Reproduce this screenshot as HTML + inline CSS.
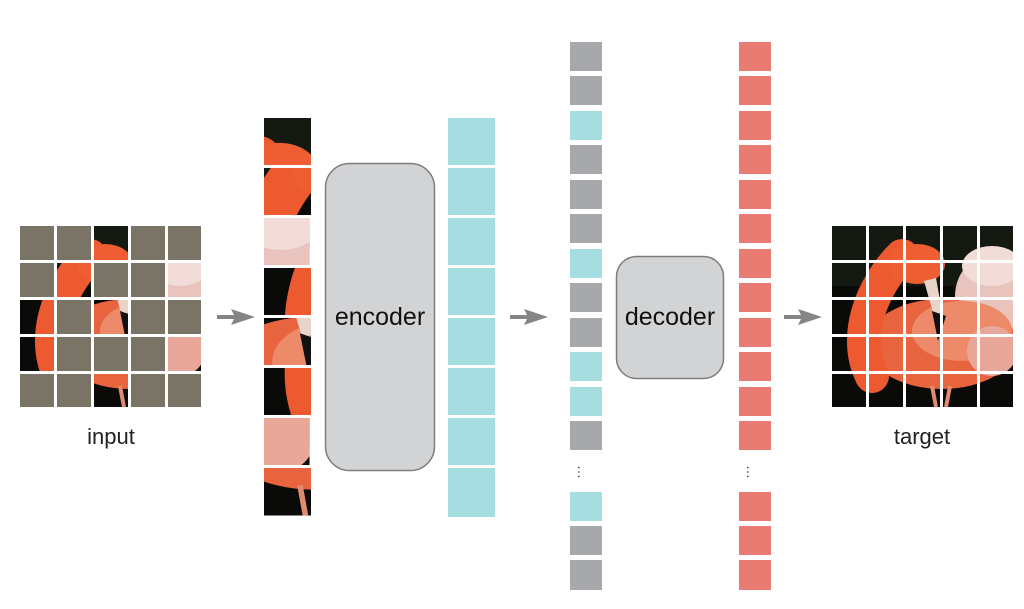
<!DOCTYPE html>
<html><head><meta charset="utf-8"><style>
html,body{margin:0;padding:0;background:#fff;}
svg{display:block;}
text{font-family:"Liberation Sans",Arial,sans-serif;}
</style></head><body>
<svg width="1024" height="609" viewBox="0 0 1024 609" xmlns="http://www.w3.org/2000/svg">
<defs>
<clipPath id="box"><rect x="0" y="0" width="181" height="181"/></clipPath>
<g id="fl">
 <g clip-path="url(#box)">
  <rect x="0" y="0" width="181" height="181" fill="#0a0a08"/>
  <rect x="0" y="0" width="181" height="60" fill="#141a12"/>
  <ellipse cx="168" cy="70" rx="45" ry="45" fill="#e9c3bd"/>
  <ellipse cx="160" cy="40" rx="30" ry="20" fill="#f2dcd8"/>
  <ellipse cx="110" cy="118" rx="75" ry="45" fill="#e8643e"/>
  <ellipse cx="130" cy="105" rx="50" ry="30" fill="#ec8a6a"/>
  <ellipse cx="160" cy="125" rx="25" ry="25" fill="#e9a79a"/>
  <path d="M40 150 C20 110 40 60 70 30" stroke="#ee5a30" stroke-width="34" fill="none" stroke-linecap="round"/>
  <ellipse cx="85" cy="38" rx="28" ry="20" fill="#ef5d32"/>
  <path d="M92 55 L102 90 L110 85 L104 52 Z" fill="#e8d4c8"/>
  <path d="M100 85 L106 115 L114 90 Z" fill="#111"/>
  <path d="M100 160 L104 181 M118 160 L114 181" stroke="#e08a70" stroke-width="4"/>
 </g>
</g>
<g id="arr">
  <rect x="0" y="-2" width="18" height="4" fill="#858585"/>
  <path d="M14 -8 L38 0 L14 8 L18 0 Z" fill="#858585"/>
</g>
</defs>

<!-- input grid -->
<g transform="translate(20,226)">
  <use href="#fl"/>
  <g fill="#7a7466">
    <rect x="0" y="0" width="34" height="34"/><rect x="37" y="0" width="34" height="34"/><rect x="111" y="0" width="34" height="34"/><rect x="148" y="0" width="34" height="34"/>
    <rect x="0" y="37" width="34" height="34"/><rect x="74" y="37" width="34" height="34"/><rect x="111" y="37" width="34" height="34"/>
    <rect x="37" y="74" width="34" height="34"/><rect x="111" y="74" width="34" height="34"/><rect x="148" y="74" width="34" height="34"/>
    <rect x="37" y="111" width="34" height="34"/><rect x="74" y="111" width="34" height="34"/><rect x="111" y="111" width="34" height="34"/>
    <rect x="0" y="148" width="34" height="34"/><rect x="37" y="148" width="34" height="34"/><rect x="111" y="148" width="34" height="34"/><rect x="148" y="148" width="34" height="34"/>
  </g>
  <g fill="#fff">
    <rect x="34" y="-1" width="3" height="183"/><rect x="71" y="-1" width="3" height="183"/><rect x="108" y="-1" width="3" height="183"/><rect x="145" y="-1" width="3" height="183"/>
    <rect x="-1" y="34" width="183" height="3"/><rect x="-1" y="71" width="183" height="3"/><rect x="-1" y="108" width="183" height="3"/><rect x="-1" y="145" width="183" height="3"/>
    <rect x="181" y="0" width="3" height="181"/><rect x="0" y="181" width="183" height="3"/>
  </g>
</g>
<text x="111" y="444" font-size="22" text-anchor="middle" fill="#222">input</text>

<use href="#arr" transform="translate(217,317)"/>

<!-- patch column -->
<svg x="264" y="118" width="47" height="47" viewBox="74 0 34 34"><use href="#fl"/></svg>
<svg x="264" y="168" width="47" height="47" viewBox="37 37 34 34"><use href="#fl"/></svg>
<svg x="264" y="218" width="47" height="47" viewBox="148 37 34 34"><use href="#fl"/></svg>
<svg x="264" y="268" width="47" height="47" viewBox="0 74 34 34"><use href="#fl"/></svg>
<svg x="264" y="318" width="47" height="47" viewBox="74 74 34 34"><use href="#fl"/></svg>
<svg x="264" y="368" width="47" height="47" viewBox="0 111 34 34"><use href="#fl"/></svg>
<svg x="264" y="418" width="47" height="47" viewBox="148 111 34 34"><use href="#fl"/></svg>
<svg x="264" y="468" width="47" height="49" viewBox="74 148 34 34" preserveAspectRatio="none"><use href="#fl"/></svg>

<!-- encoder -->
<rect x="325.5" y="163.5" width="109" height="307" rx="24" fill="#d2d3d5" stroke="#7d7d7d" stroke-width="1.5"/>
<text x="380" y="325" font-size="25" text-anchor="middle" fill="#111">encoder</text>

<!-- cyan column -->
<g fill="#a6dde0">
  <rect x="448" y="118" width="47" height="47"/><rect x="448" y="168" width="47" height="47"/>
  <rect x="448" y="218" width="47" height="47"/><rect x="448" y="268" width="47" height="47"/>
  <rect x="448" y="318" width="47" height="47"/><rect x="448" y="368" width="47" height="47"/>
  <rect x="448" y="418" width="47" height="47"/><rect x="448" y="468" width="47" height="49"/>
</g>

<use href="#arr" transform="translate(510,317)"/>

<!-- mixed column -->
<g>
  <rect x="570" y="42" width="32" height="29" fill="#a7a8ab"/>
  <rect x="570" y="76" width="32" height="29" fill="#a7a8ab"/>
  <rect x="570" y="111" width="32" height="29" fill="#a6dde0"/>
  <rect x="570" y="145" width="32" height="29" fill="#a7a8ab"/>
  <rect x="570" y="180" width="32" height="29" fill="#a7a8ab"/>
  <rect x="570" y="214" width="32" height="29" fill="#a7a8ab"/>
  <rect x="570" y="249" width="32" height="29" fill="#a6dde0"/>
  <rect x="570" y="283" width="32" height="29" fill="#a7a8ab"/>
  <rect x="570" y="318" width="32" height="29" fill="#a7a8ab"/>
  <rect x="570" y="352" width="32" height="29" fill="#a6dde0"/>
  <rect x="570" y="387" width="32" height="29" fill="#a6dde0"/>
  <rect x="570" y="421" width="32" height="29" fill="#a7a8ab"/>
  <rect x="570" y="492" width="32" height="29" fill="#a6dde0"/>
  <rect x="570" y="526" width="32" height="29" fill="#a7a8ab"/>
  <rect x="570" y="560" width="32" height="30" fill="#a7a8ab"/>
</g>
<text x="586" y="480" font-size="14" text-anchor="middle" fill="#333" transform="rotate(90 586 472)">…</text>

<!-- decoder -->
<rect x="616.5" y="256.5" width="107" height="122" rx="20" fill="#d2d3d5" stroke="#7d7d7d" stroke-width="1.5"/>
<text x="670" y="325" font-size="25" text-anchor="middle" fill="#111">decoder</text>

<!-- red column -->
<g fill="#e97b73">
  <rect x="739" y="42" width="32" height="29"/><rect x="739" y="76" width="32" height="29"/>
  <rect x="739" y="111" width="32" height="29"/><rect x="739" y="145" width="32" height="29"/>
  <rect x="739" y="180" width="32" height="29"/><rect x="739" y="214" width="32" height="29"/>
  <rect x="739" y="249" width="32" height="29"/><rect x="739" y="283" width="32" height="29"/>
  <rect x="739" y="318" width="32" height="29"/><rect x="739" y="352" width="32" height="29"/>
  <rect x="739" y="387" width="32" height="29"/><rect x="739" y="421" width="32" height="29"/>
  <rect x="739" y="492" width="32" height="29"/><rect x="739" y="526" width="32" height="29"/>
  <rect x="739" y="560" width="32" height="30"/>
</g>
<text x="755" y="480" font-size="14" text-anchor="middle" fill="#333" transform="rotate(90 755 472)">…</text>

<use href="#arr" transform="translate(784,317)"/>

<!-- target -->
<g transform="translate(832,226)">
  <use href="#fl"/>
  <g fill="#fff">
    <rect x="34" y="-1" width="3" height="183"/><rect x="71" y="-1" width="3" height="183"/><rect x="108" y="-1" width="3" height="183"/><rect x="145" y="-1" width="3" height="183"/>
    <rect x="-1" y="34" width="183" height="3"/><rect x="-1" y="71" width="183" height="3"/><rect x="-1" y="108" width="183" height="3"/><rect x="-1" y="145" width="183" height="3"/>
    <rect x="181" y="0" width="3" height="181"/><rect x="0" y="181" width="183" height="3"/>
  </g>
</g>
<text x="922" y="444" font-size="22" text-anchor="middle" fill="#222">target</text>
</svg>
</body></html>
